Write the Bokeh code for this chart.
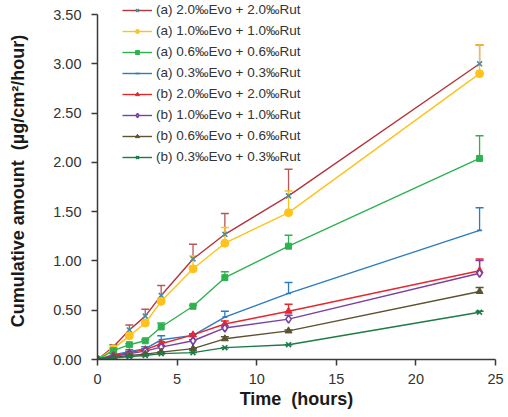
from bokeh.plotting import figure
from bokeh.models import (Range1d, FixedTicker, PrintfTickFormatter, ColumnDataSource,
                          Whisker, TeeHead, Legend, LegendItem)
from bokeh.embed import file_html
from bokeh.resources import INLINE

# ---------------- data ----------------
time_h = [0, 1, 2, 3, 4, 6, 8, 12, 24]

labels = [
    "(a) 2.0‰Evo + 2.0‰Rut",
    "(a) 1.0‰Evo + 1.0‰Rut",
    "(a) 0.6‰Evo + 0.6‰Rut",
    "(a) 0.3‰Evo + 0.3‰Rut",
    "(b) 2.0‰Evo + 2.0‰Rut",
    "(b) 1.0‰Evo + 1.0‰Rut",
    "(b) 0.6‰Evo + 0.6‰Rut",
    "(b) 0.3‰Evo + 0.3‰Rut",
]

a20 = [0, 0.13, 0.30, 0.44, 0.65, 1.02, 1.27, 1.66, 3.00]
a10 = [0, 0.11, 0.24, 0.37, 0.59, 0.92, 1.18, 1.49, 2.90]
a06 = [0, 0.09, 0.15, 0.19, 0.33, 0.54, 0.83, 1.15, 2.04]
a03 = [0, 0.05, 0.08, 0.11, 0.20, 0.245, 0.43, 0.67, 1.31]
b20 = [0, 0.04, 0.07, 0.10, 0.16, 0.25, 0.36, 0.49, 0.90]
b10 = [0, 0.03, 0.06, 0.085, 0.125, 0.19, 0.32, 0.41, 0.875]
b06 = [0, 0.02, 0.04, 0.055, 0.075, 0.11, 0.21, 0.29, 0.69]
b03 = [0, 0.015, 0.03, 0.04, 0.06, 0.07, 0.12, 0.15, 0.48]

a20_err = [0, 0.02, 0.05, 0.07, 0.10, 0.15, 0.21, 0.27, 0.19]
a10_err = [0, 0.01, 0.02, 0.02, 0.03, 0.13, 0.16, 0.22, 0.29]
a06_err = [0, 0.01, 0.01, 0.01, 0.04, 0.01, 0.06, 0.11, 0.23]
a03_err = [0, 0.01, 0.02, 0.02, 0.04, 0.01, 0.06, 0.11, 0.23]
b20_err = [0, 0.00, 0.01, 0.01, 0.02, 0.01, 0.03, 0.07, 0.12]
b10_err = [0, 0.00, 0.00, 0.01, 0.01, 0.01, 0.01, 0.04, 0.13]
b06_err = [0, 0.00, 0.00, 0.00, 0.00, 0.00, 0.02, 0.01, 0.04]
b03_err = [0, 0.00, 0.00, 0.00, 0.00, 0.00, 0.00, 0.00, 0.01]

y_ticks = [0, 0.5, 1.0, 1.5, 2.0, 2.5, 3.0, 3.5]
x_ticks = [0, 5, 10, 15, 20, 25]
y_axis_max = 3.5

series = [a20, a10, a06, a03, b20, b10, b06, b03]
errors = [a20_err, a10_err, a06_err, a03_err, b20_err, b10_err, b06_err, b03_err]

# style per series: line colour, marker, marker colour, marker fill, err colour, size
styles = [
    ("#B3343A", "x", "#4A8DA6", "#4A8DA6", "#B8565A", 7),
    ("#FFC21A", "circle", "#FFC21A", "#FFC21A", "#FFC21A", 8),
    ("#2DB24E", "square", "#2DB24E", "#2DB24E", "#2DB24E", 6),
    ("#2B7BC0", "dash", "#2B7BC0", "#2B7BC0", "#2B7BC0", 5),
    ("#E8262D", "triangle", "#E8262D", "#E8262D", "#E8262D", 7),
    ("#7B3FA0", "diamond", "#7B3FA0", "white", "#7B3FA0", 8),
    ("#5C5330", "triangle", "#5C5330", "#5C5330", "#5C5330", 7),
    ("#1E7B45", "x", "#1E7B45", "#1E7B45", "#1E7B45", 7),
]

# ---------------- figure ----------------
# frame extends 12px above the 3.50 tick so the legend has room; axis line stops at 3.50
extra_px = 12
axis_px = 345
y_top = y_axis_max * (axis_px + extra_px) / axis_px
p = figure(frame_width=398, frame_height=axis_px + extra_px, output_backend="svg",
           toolbar_location=None,
           x_range=Range1d(0, 25), y_range=Range1d(0, y_top),
           min_border_left=97, min_border_right=10, min_border_top=2, min_border_bottom=50)
p.background_fill_color = "white"
p.border_fill_color = "white"
p.outline_line_color = None
p.xgrid.visible = False
p.ygrid.visible = False

font = "Liberation Sans"
for ax in (p.xaxis[0], p.yaxis[0]):
    ax.axis_line_color = "#3a3a3a"
    ax.axis_line_width = 1.5
    ax.major_tick_line_color = "#3a3a3a"
    ax.major_tick_line_width = 1.5
    ax.major_tick_in = 0
    ax.major_tick_out = 6
    ax.minor_tick_line_color = None
    ax.major_label_text_font = font
    ax.major_label_text_font_size = "14.5px"
    ax.major_label_text_color = "#333333"
    ax.axis_label_text_font = font
    ax.axis_label_text_font_style = "bold"
    ax.axis_label_text_font_size = "18px"
    ax.axis_label_text_color = "#1a1a1a"

p.yaxis.bounds = (0, y_axis_max)
p.xaxis.ticker = FixedTicker(ticks=x_ticks)
p.yaxis.ticker = FixedTicker(ticks=y_ticks)
p.yaxis.formatter = PrintfTickFormatter(format="%.2f")
p.xaxis.major_label_standoff = 8
p.yaxis.major_label_standoff = 10
p.xaxis.axis_label = "Time\u00a0\u00a0(hours)"
p.yaxis.axis_label = "Cumulative amount\u00a0\u00a0(µg/cm²/hour)"
p.xaxis.axis_label_standoff = 2
p.yaxis.axis_label_standoff = 22

items = []
for lab, ys, errs, st in zip(labels, series, errors, styles):
    lc, mk, mc, mf, ec, ms = st
    upper = [y + e for y, e in zip(ys, errs)]
    src = ColumnDataSource(dict(x=time_h, y=ys, upper=upper))
    w = Whisker(source=src, base="x", upper="upper", lower="y", dimension="height",
                line_color=ec, line_width=1.3, lower_head=None,
                upper_head=TeeHead(size=8, line_color=ec, line_width=1.5))
    p.add_layout(w)
    lr = p.line("x", "y", source=src, line_color=lc, line_width=1.4)
    sr = p.scatter("x", "y", source=src, marker=mk, size=ms, line_color=mc,
                   fill_color=mf, line_width=1.6 if mk in ("x", "dash", "diamond") else 1)
    items.append(LegendItem(label=lab, renderers=[lr, sr]))

legend = Legend(items=items, location=(25, 195), orientation="vertical",
                glyph_width=30, glyph_height=10, label_height=10, spacing=6,
                label_standoff=4, padding=0, margin=0,
                label_text_font=font, label_text_font_size="13.5px",
                label_text_color="#333333",
                background_fill_alpha=0, border_line_color=None)
p.add_layout(legend, "center")

open("out.html", "w").write(file_html(p, INLINE))
